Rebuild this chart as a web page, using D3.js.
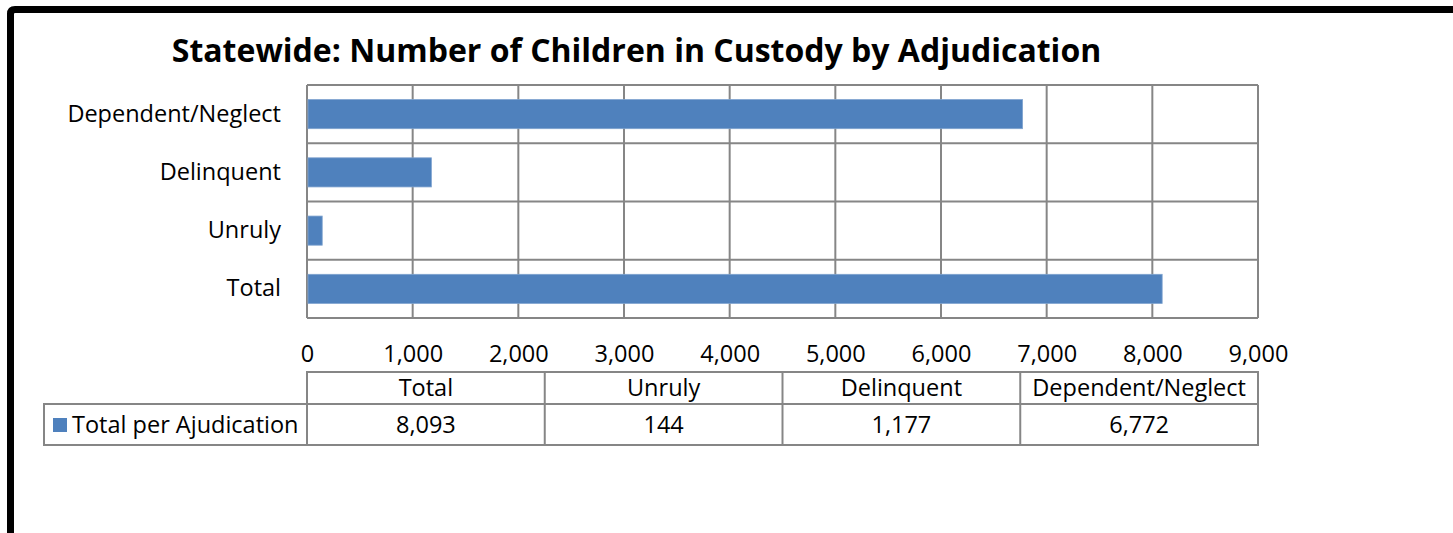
<!DOCTYPE html>
<html>
<head>
<meta charset="utf-8">
<script src="https://cdn.jsdelivr.net/npm/d3@7"></script>
<style>
  html, body { margin: 0; padding: 0; background: #fff; }
  svg { display: block; }
</style>
</head>
<body>
<script>
// Children in custody, by adjudication type
const categories = ["Dependent/Neglect", "Delinquent", "Unruly", "Total"];
const values = [6772, 1177, 144, 8093];
const tableColumns = ["Total", "Unruly", "Delinquent", "Dependent/Neglect"];
const seriesName = "Total per Ajudication";
const xTicks = [0, 1000, 2000, 3000, 4000, 5000, 6000, 7000, 8000, 9000];
const chartTitle = "Statewide: Number of Children in Custody by Adjudication";

const W = 1453, H = 533;
const barColor = "#4F81BD";
const gridColor = "#868686";
const bodyFont = "'Open Sans', sans-serif";
const bodySize = 23.5;

const svg = d3.select("body").append("svg").attr("width", W).attr("height", H);

// Outer frame (runs off the right and bottom edges)
svg.append("path")
  .attr("d", "M10.5,540 L10.5,14 Q10.5,9.5 15,9.5 L1460,9.5")
  .attr("fill", "none").attr("stroke", "#000").attr("stroke-width", 7);

// Title
svg.append("text")
  .attr("x", 636.5).attr("y", 62)
  .attr("text-anchor", "middle")
  .attr("font-family", bodyFont).attr("font-weight", 700).attr("font-size", 32)
  .attr("fill", "#000")
  .text(chartTitle);

const plot = { left: 307, right: 1258, top: 85, bottom: 318 };

const x = d3.scaleLinear().domain([0, 9000]).range([plot.left, plot.right]);
const y = d3.scaleBand().domain(categories).range([plot.top, plot.bottom])
  .paddingInner(0.5).paddingOuter(0.25);

// Vertical value gridlines
svg.append("g").selectAll("line").data(xTicks).join("line")
  .attr("x1", d => x(d)).attr("x2", d => x(d))
  .attr("y1", plot.top).attr("y2", plot.bottom)
  .attr("stroke", gridColor).attr("stroke-width", 2);

// Horizontal category separators
const bounds = d3.range(categories.length + 1).map(i => plot.top + i * (plot.bottom - plot.top) / categories.length);
svg.append("g").selectAll("line").data(bounds).join("line")
  .attr("x1", plot.left).attr("x2", plot.right)
  .attr("y1", d => d).attr("y2", d => d)
  .attr("stroke", gridColor).attr("stroke-width", 2);

// Bars
svg.append("g").selectAll("rect").data(categories).join("rect")
  .attr("x", x(0) + 1)
  .attr("y", d => y(d))
  .attr("width", (d, i) => x(values[i]) - x(0) - 1)
  .attr("height", y.bandwidth())
  .attr("fill", barColor)
  .attr("stroke", "#7FA3CF").attr("stroke-width", 0.8);

// Category axis labels
svg.append("g").selectAll("text").data(categories).join("text")
  .attr("x", 281)
  .attr("y", d => y(d) + y.bandwidth() / 2)
  .attr("dy", "0.32em")
  .attr("text-anchor", "end")
  .attr("font-family", bodyFont).attr("font-size", bodySize)
  .attr("fill", "#000")
  .text(d => d);

// Value axis labels
const xAxis = d3.axisBottom(x).tickValues(xTicks).tickFormat(d3.format(",")).tickSize(0).tickPadding(27);
const gx = svg.append("g").attr("transform", `translate(0,${plot.bottom})`).call(xAxis);
gx.select(".domain").remove();
gx.selectAll("text").attr("font-size", bodySize).attr("fill", "#000").attr("font-family", bodyFont);

// Data table under the chart
const tbl = { top: 372, mid: 404, bottom: 445, legendLeft: 44, headBase: 395.7, valueBase: 433.3 };
const colX = d3.scaleBand().domain(tableColumns).range([plot.left, plot.right]);
const tg = svg.append("g").attr("stroke", gridColor).attr("stroke-width", 2).attr("fill", "none");
tg.append("rect").attr("x", plot.left).attr("y", tbl.top).attr("width", plot.right - plot.left).attr("height", tbl.bottom - tbl.top);
tg.append("rect").attr("x", tbl.legendLeft).attr("y", tbl.mid).attr("width", plot.right - tbl.legendLeft).attr("height", tbl.bottom - tbl.mid);
tg.selectAll("line.col").data(tableColumns.slice(1)).join("line")
  .attr("x1", d => colX(d)).attr("x2", d => colX(d))
  .attr("y1", tbl.top).attr("y2", tbl.bottom);

const valueByCat = new Map(categories.map((c, i) => [c, values[i]]));
svg.append("g").selectAll("text").data(tableColumns).join("text")
  .attr("x", d => colX(d) + colX.bandwidth() / 2)
  .attr("y", tbl.headBase)
  .attr("text-anchor", "middle")
  .attr("font-family", bodyFont).attr("font-size", bodySize).attr("fill", "#000")
  .text(d => d);
svg.append("g").selectAll("text").data(tableColumns).join("text")
  .attr("x", d => colX(d) + colX.bandwidth() / 2)
  .attr("y", tbl.valueBase)
  .attr("text-anchor", "middle")
  .attr("font-family", bodyFont).attr("font-size", bodySize).attr("fill", "#000")
  .text(d => d3.format(",")(valueByCat.get(d)));

// Legend key inside the table's row header
svg.append("rect").attr("x", 53).attr("y", 418).attr("width", 14).attr("height", 14).attr("fill", barColor);
svg.append("text").attr("x", 72).attr("y", tbl.valueBase)
  .attr("font-family", bodyFont).attr("font-size", bodySize).attr("fill", "#000")
  .text(seriesName);
</script>
</body>
</html>
